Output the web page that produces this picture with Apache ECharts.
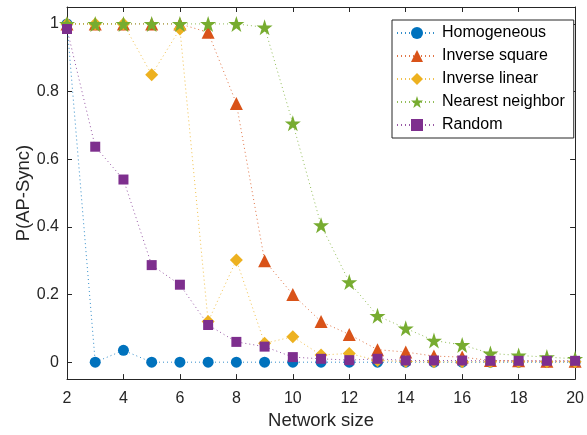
<!DOCTYPE html>
<html><head><meta charset="utf-8">
<script src="https://cdn.jsdelivr.net/npm/echarts@6/dist/echarts.min.js"></script>
<style>html,body{margin:0;padding:0;background:#fff}#c{width:587px;height:435px}</style>
</head><body><div id="c"></div>
<script>
var networkSize = [2,3,4,5,6,7,8,9,10,11,12,13,14,15,16,17,18,19,20];
var homogeneous = [1.0,0,0.035,0,0,0,0,0,0,0,0,0,0,0,0,0,0,0,0];
var inverseSquare = [1.0,1.0,1.0,1.0,1.0,0.975,0.765,0.30,0.20,0.12,0.082,0.037,0.03,0.018,0.015,0.005,0.004,0.003,0.003];
var inverseLinear = [1.0,1.0,1.0,0.85,0.985,0.12,0.302,0.056,0.075,0.021,0.026,0.005,0.002,0.001,0.001,0.001,0.001,0.001,0.001];
var nearestNeighbor = [1.0,1.0,1.0,1.0,1.0,1.0,1.0,0.99,0.706,0.405,0.237,0.137,0.10,0.064,0.051,0.026,0.02,0.015,0.01];
var randomNet = [0.985,0.637,0.54,0.287,0.229,0.11,0.06,0.046,0.015,0.01,0.006,0.01,0.005,0.005,0.005,0.004,0.004,0.004,0.004];
var xTicks = [2,4,6,8,10,12,14,16,18,20];
var yTicks = [0,0.2,0.4,0.6,0.8,1];

var starPath = 'path://M50,0 L61.8,35.4 L99,35.4 L69,57.3 L80.4,92.7 L50,70.8 L19.6,92.7 L31,57.3 L1,35.4 L38.2,35.4 Z';
function pairs(arr){ return networkSize.map(function(x,i){return [x,arr[i]];}); }
function mk(name, arr, color, symbol, size){
  return {name:name, type:'line', data:pairs(arr), symbol:symbol, symbolSize:size,
    showSymbol:true, animation:false, xAxisIndex:0, yAxisIndex:0,
    lineStyle:{color:color, width:1, type:[1,3], opacity:0.8},
    itemStyle:{color:color, borderWidth:0}};
}
var chart = echarts.init(document.getElementById('c'), null, {renderer:'canvas'});
var axisColor = '#262626';
var font = 'Liberation Sans, Arial, Helvetica, sans-serif';
function tickCfg(vals){ return {show:true, inside:true, length:5, customValues:vals, lineStyle:{color:axisColor}}; }
chart.setOption({
  animation:false,
  backgroundColor:'#fff',
  textStyle:{fontFamily:font},
  grid:{left:67, right:10, top:7, bottom:54, show:false},
  legend:{
    orient:'vertical', left:392, top:20,
    padding:[5,9,5,4], itemGap:7, itemWidth:40, itemHeight:15,
    backgroundColor:'#fff', borderColor:axisColor, borderWidth:1,
    textStyle:{fontSize:16, color:'#000', fontFamily:font},
    data:['Homogeneous','Inverse square','Inverse linear','Nearest neighbor','Random']
  },
  xAxis:[{
    type:'value', min:2, max:20, position:'bottom',
    name:'Network size', nameLocation:'middle', nameGap:31,
    nameTextStyle:{fontSize:18.5, color:axisColor, fontFamily:font},
    axisLine:{show:true, onZero:false, lineStyle:{color:axisColor}},
    axisTick:tickCfg(xTicks),
    axisLabel:{fontSize:16, color:axisColor, margin:11, fontFamily:font, customValues:xTicks},
    splitLine:{show:false}
  },{
    type:'value', min:2, max:20, position:'top',
    axisLine:{show:true, onZero:false, lineStyle:{color:axisColor}},
    axisTick:tickCfg(xTicks),
    axisLabel:{show:false}, splitLine:{show:false}
  }],
  yAxis:[{
    type:'value', min:-0.05, max:1.05, position:'left',
    name:'P(AP-Sync)', nameLocation:'middle', nameGap:34, nameRotate:90, nameMoveOverlap:false,
    nameTextStyle:{fontSize:18.5, color:axisColor, fontFamily:font},
    axisLine:{show:true, onZero:false, lineStyle:{color:axisColor}},
    axisTick:tickCfg(yTicks),
    axisLabel:{fontSize:16, color:axisColor, margin:8, fontFamily:font, customValues:yTicks,
      formatter:function(v){return String(Math.round(v*10)/10);}},
    splitLine:{show:false}
  },{
    type:'value', min:-0.05, max:1.05, position:'right',
    axisLine:{show:true, onZero:false, lineStyle:{color:axisColor}},
    axisTick:tickCfg(yTicks),
    axisLabel:{show:false}, splitLine:{show:false}
  }],
  series:[
    mk('Homogeneous', homogeneous, '#0072BD', 'circle', 11),
    mk('Inverse square', inverseSquare, '#D95319', 'triangle', 13),
    mk('Inverse linear', inverseLinear, '#EDB120', 'diamond', 13),
    mk('Nearest neighbor', nearestNeighbor, '#77AC30', starPath, 16),
    mk('Random', randomNet, '#7E2F8E', 'rect', 10)
  ]
});
</script></body></html>
